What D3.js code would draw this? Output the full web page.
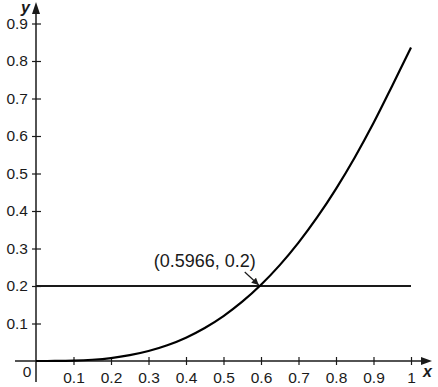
<!DOCTYPE html>
<html>
<head>
<meta charset="utf-8">
<script src="https://cdn.jsdelivr.net/npm/d3@7"></script>
<style>
  html, body { margin: 0; padding: 0; background: #fff; }
  svg { display: block; font-family: "Liberation Sans", Arial, Helvetica, sans-serif; }
</style>
</head>
<body>
<div id="chart"></div>
<script>
// values
const curveX = [0, 0.05, 0.1, 0.15, 0.2, 0.25, 0.3, 0.35, 0.4, 0.45, 0.5, 0.55, 0.6, 0.65, 0.7, 0.75, 0.8, 0.85, 0.9, 0.95, 1];
const curveY = [0, 0.0001, 0.001, 0.0034, 0.0079, 0.0155, 0.0266, 0.042, 0.0623, 0.0881, 0.1199, 0.1581, 0.2033, 0.2557, 0.3157, 0.3834, 0.4591, 0.5428, 0.6345, 0.7341, 0.836];
const lineLevel = 0.2;
const lineRange = [0, 1];
const xTicks = [0.1, 0.2, 0.3, 0.4, 0.5, 0.6, 0.7, 0.8, 0.9, 1];
const yTicks = [0.1, 0.2, 0.3, 0.4, 0.5, 0.6, 0.7, 0.8, 0.9];
const point = { x: 0.5966, y: 0.2, label: "(0.5966, 0.2)" };

const width = 438, height = 387;
const ink = "#1a1a1a";

const x = d3.scaleLinear().domain([0, 1]).range([36, 411]);
const y = d3.scaleLinear().domain([0, 0.9]).range([361, 23.5]);

const svg = d3.select("#chart").append("svg")
  .attr("width", width)
  .attr("height", height);

const defs = svg.append("defs");
defs.append("marker")
  .attr("id", "ann-arrow")
  .attr("viewBox", "0 0 10 10")
  .attr("refX", 10).attr("refY", 5)
  .attr("markerWidth", 7).attr("markerHeight", 7)
  .attr("markerUnits", "userSpaceOnUse")
  .attr("orient", "auto")
  .append("path")
  .attr("d", "M0,0 L10,5 L0,10 z")
  .attr("fill", ink);

// x axis
const xAxis = svg.append("g")
  .attr("transform", `translate(0, ${y(0)})`)
  .style("font-size", "15.5px")
  .call(d3.axisBottom(x).tickValues(xTicks).tickFormat(d3.format("")).tickSize(4).tickPadding(7));
xAxis.select(".domain").remove();
xAxis.selectAll(".tick line").attr("y1", -4).attr("y2", 4).attr("stroke", ink).attr("stroke-width", 1.2);
xAxis.selectAll(".tick text").attr("fill", ink);

// y axis
const yAxis = svg.append("g")
  .attr("transform", `translate(${x(0)}, 0)`)
  .style("font-size", "15.5px")
  .call(d3.axisLeft(y).tickValues(yTicks).tickFormat(d3.format("")).tickSize(4).tickPadding(4));
yAxis.select(".domain").remove();
yAxis.selectAll(".tick line").attr("x1", -4).attr("x2", 5).attr("stroke", ink).attr("stroke-width", 1.2);
yAxis.selectAll(".tick text").attr("fill", ink);

// axis lines with arrowheads
svg.append("line")
  .attr("x1", 15).attr("x2", 424)
  .attr("y1", y(0)).attr("y2", y(0))
  .attr("stroke", ink).attr("stroke-width", 1.5);
svg.append("path")
  .attr("d", `M${432},${y(0)} L${421},${y(0) - 4} L${421},${y(0) + 4} z`)
  .attr("fill", ink);

svg.append("line")
  .attr("x1", x(0)).attr("x2", x(0))
  .attr("y1", 12).attr("y2", 382)
  .attr("stroke", ink).attr("stroke-width", 1.5);
svg.append("path")
  .attr("d", `M${x(0)},2 L${x(0) - 4},14 L${x(0) + 4},14 z`)
  .attr("fill", ink);

// axis names
svg.append("text")
  .attr("x", 27).attr("y", 377)
  .attr("text-anchor", "middle")
  .attr("font-size", 15.5)
  .attr("fill", ink)
  .text("0");
svg.append("text")
  .attr("x", 21).attr("y", 13)
  .attr("font-size", 16).attr("font-style", "italic").attr("font-weight", "bold")
  .attr("fill", ink)
  .text("y");
svg.append("text")
  .attr("x", 423).attr("y", 377)
  .attr("font-size", 16).attr("font-style", "italic").attr("font-weight", "bold")
  .attr("fill", ink)
  .text("x");

// horizontal line
svg.append("line")
  .attr("x1", x(lineRange[0])).attr("x2", x(lineRange[1]))
  .attr("y1", y(lineLevel)).attr("y2", y(lineLevel))
  .attr("stroke", ink).attr("stroke-width", 2);

// curve
const pts = curveX.map((v, i) => ({ x: v, y: curveY[i] }));
svg.append("path")
  .datum(pts)
  .attr("fill", "none")
  .attr("stroke", "#000")
  .attr("stroke-width", 2.2)
  .attr("d", d3.line().x(d => x(d.x)).y(d => y(d.y)).curve(d3.curveCatmullRom));

// annotation
const px = x(point.x), py = y(point.y);
svg.append("line")
  .attr("x1", px - 15).attr("y1", py - 14)
  .attr("x2", px - 1).attr("y2", py - 1)
  .attr("stroke", ink).attr("stroke-width", 1.2)
  .attr("marker-end", "url(#ann-arrow)");
svg.append("text")
  .attr("x", px - 55).attr("y", py - 19)
  .attr("text-anchor", "middle")
  .attr("font-size", 18)
  .attr("fill", ink)
  .text(point.label);
</script>
</body>
</html>
